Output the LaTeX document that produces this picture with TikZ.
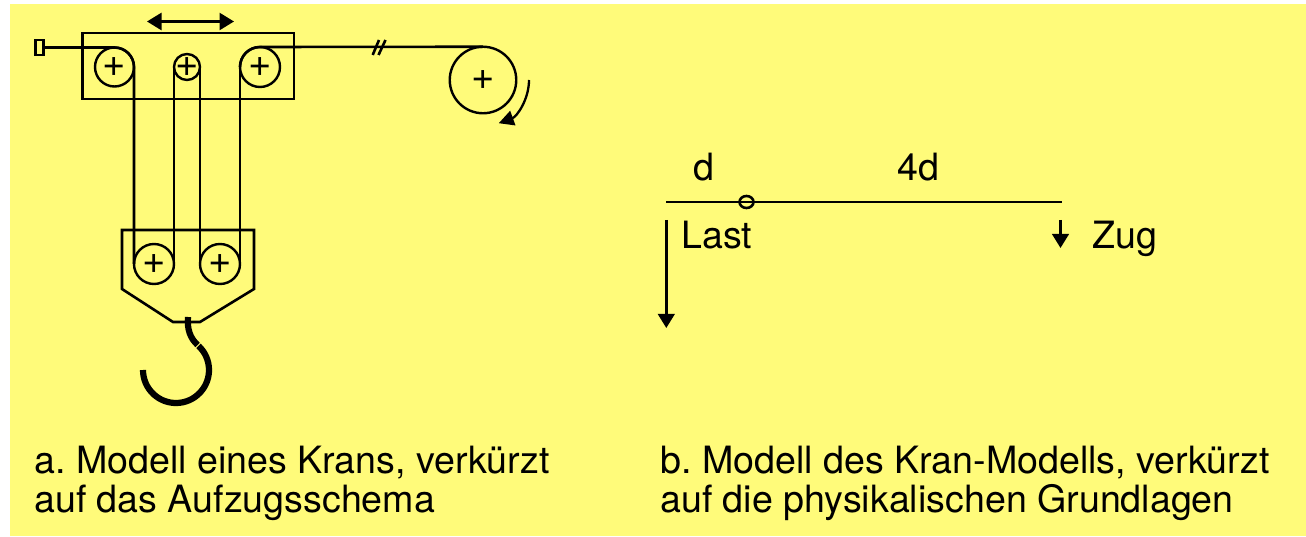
\documentclass[tikz,border=0pt]{standalone}
\usepackage{fontspec}
\setmainfont{TeX Gyre Heros}
\usetikzlibrary{arrows.meta,shapes.geometric}
\definecolor{bgyellow}{HTML}{FFFB7A}
\tikzset{
  rope/.style={line width=2.6pt},
  pulley/.style={draw,circle,line width=2.4pt,inner sep=-12pt,outer sep=0pt,font=\fontsize{40}{40}\selectfont},
  hookline/.style={line width=6.2pt},
  lbl/.style={inner sep=0pt,font=\fontsize{37.6}{39}\selectfont},
  pfeil/.style={rope,-{Triangle[length=14pt,width=16.5pt]}}
}
\frenchspacing
\begin{document}
\begin{tikzpicture}[x=1pt,y=1pt]
      \useasboundingbox (0,0) rectangle (1306,536);
      \fill[bgyellow] (10,0) rectangle (1306,532);
      \draw[rope] (82.5,437) rectangle (294,503);
      \draw[rope] (122,247) -- (122,306) -- (254,306) -- (254,247) -- (200,214) -- (173,214) -- cycle;
      \draw
        (114.5,469) node[pulley,minimum size=39pt] (p1){+}
        (187,469) node[pulley,minimum size=26pt] (p2){+}
        (260,469) node[pulley,minimum size=40pt] (p3){+}
        (154,272) node[pulley,minimum size=40pt] (p4){+}
        (220,272) node[pulley,minimum size=40pt] (p5){+}
        (483,456) node[pulley,minimum size=66.5pt] (drum){+}
        (39.3,488.5) node[draw,rope,inner sep=0pt,minimum width=8pt,minimum height=15pt] (anchor){};
      \begin{scope}[rope]
        \draw (anchor.east) -- (p1.north) arc[start angle=90,end angle=0,radius=19.5] -- (p4.west);
        \draw (p2.west) -- (p4.east);
        \draw (p2.east) -- (p5.west);
        \draw (p3.west) -- (p5.east);
        \draw (p3.west) arc[start angle=180,end angle=90,radius=20] -- (drum.north);
        \draw (372.7,481) -- (379,496);
        \draw (378.5,481) -- (385.5,496);
      \end{scope}
      % hook
      \draw[hookline] (188,219) .. controls (187,207) and (190,198) .. (197.6,191);
      \draw[hookline] (176,166) ++(47:33) arc[start angle=47,end angle=-180,radius=33];
      % arrows
      \coordinate (moveL) at (147,514.5);
      \coordinate (moveR) at (234,514.5);
      \draw[rope,{Triangle[length=14.5pt,width=17pt]}-{Triangle[length=14.5pt,width=17pt]}] (moveL) -- (moveR);
      \draw[line width=2.3pt,-{Triangle[length=15pt,width=15pt]}] (drum.center) ++(46,0) arc[start angle=0,end angle=-70,radius=46];
      % beam
      \coordinate (beamL) at (666,334);
      \coordinate (beamR) at (1062,334);
      \draw[rope] (beamL) -- (beamR);
      \node[draw,ellipse,rope,inner sep=0pt,minimum width=14pt,minimum height=12pt] (pivot) at (746.5,334) {};
      \coordinate (lastTop) at (666.3,316);
      \coordinate (lastEnd) at (666.3,208);
      \coordinate (zugTop) at (1060.5,316);
      \coordinate (zugEnd) at (1060.5,288);
      \draw[pfeil] (lastTop) -- (lastEnd);
      \draw[pfeil] (zugTop) -- (zugEnd);
      % labels
      \node[lbl,anchor=base] (d) at (704,355) {d};
      \node[lbl,anchor=base] (vierd) at (918,355) {4d};
      \node[lbl,anchor=base west] (last) at (681,287) {Last};
      \node[lbl,anchor=base west] (zug) at (1092,287) {Zug};
      \node[lbl,anchor=north west,align=left] (capa) at (34,90) {a. Modell eines Krans, verkürzt\\auf das Aufzugsschema};
      \node[lbl,anchor=north west,align=left] (capb) at (660,90) {b. Modell des Kran-Modells, verkürzt\\auf die physikalischen Grundlagen};
    \end{tikzpicture}
\end{document}
